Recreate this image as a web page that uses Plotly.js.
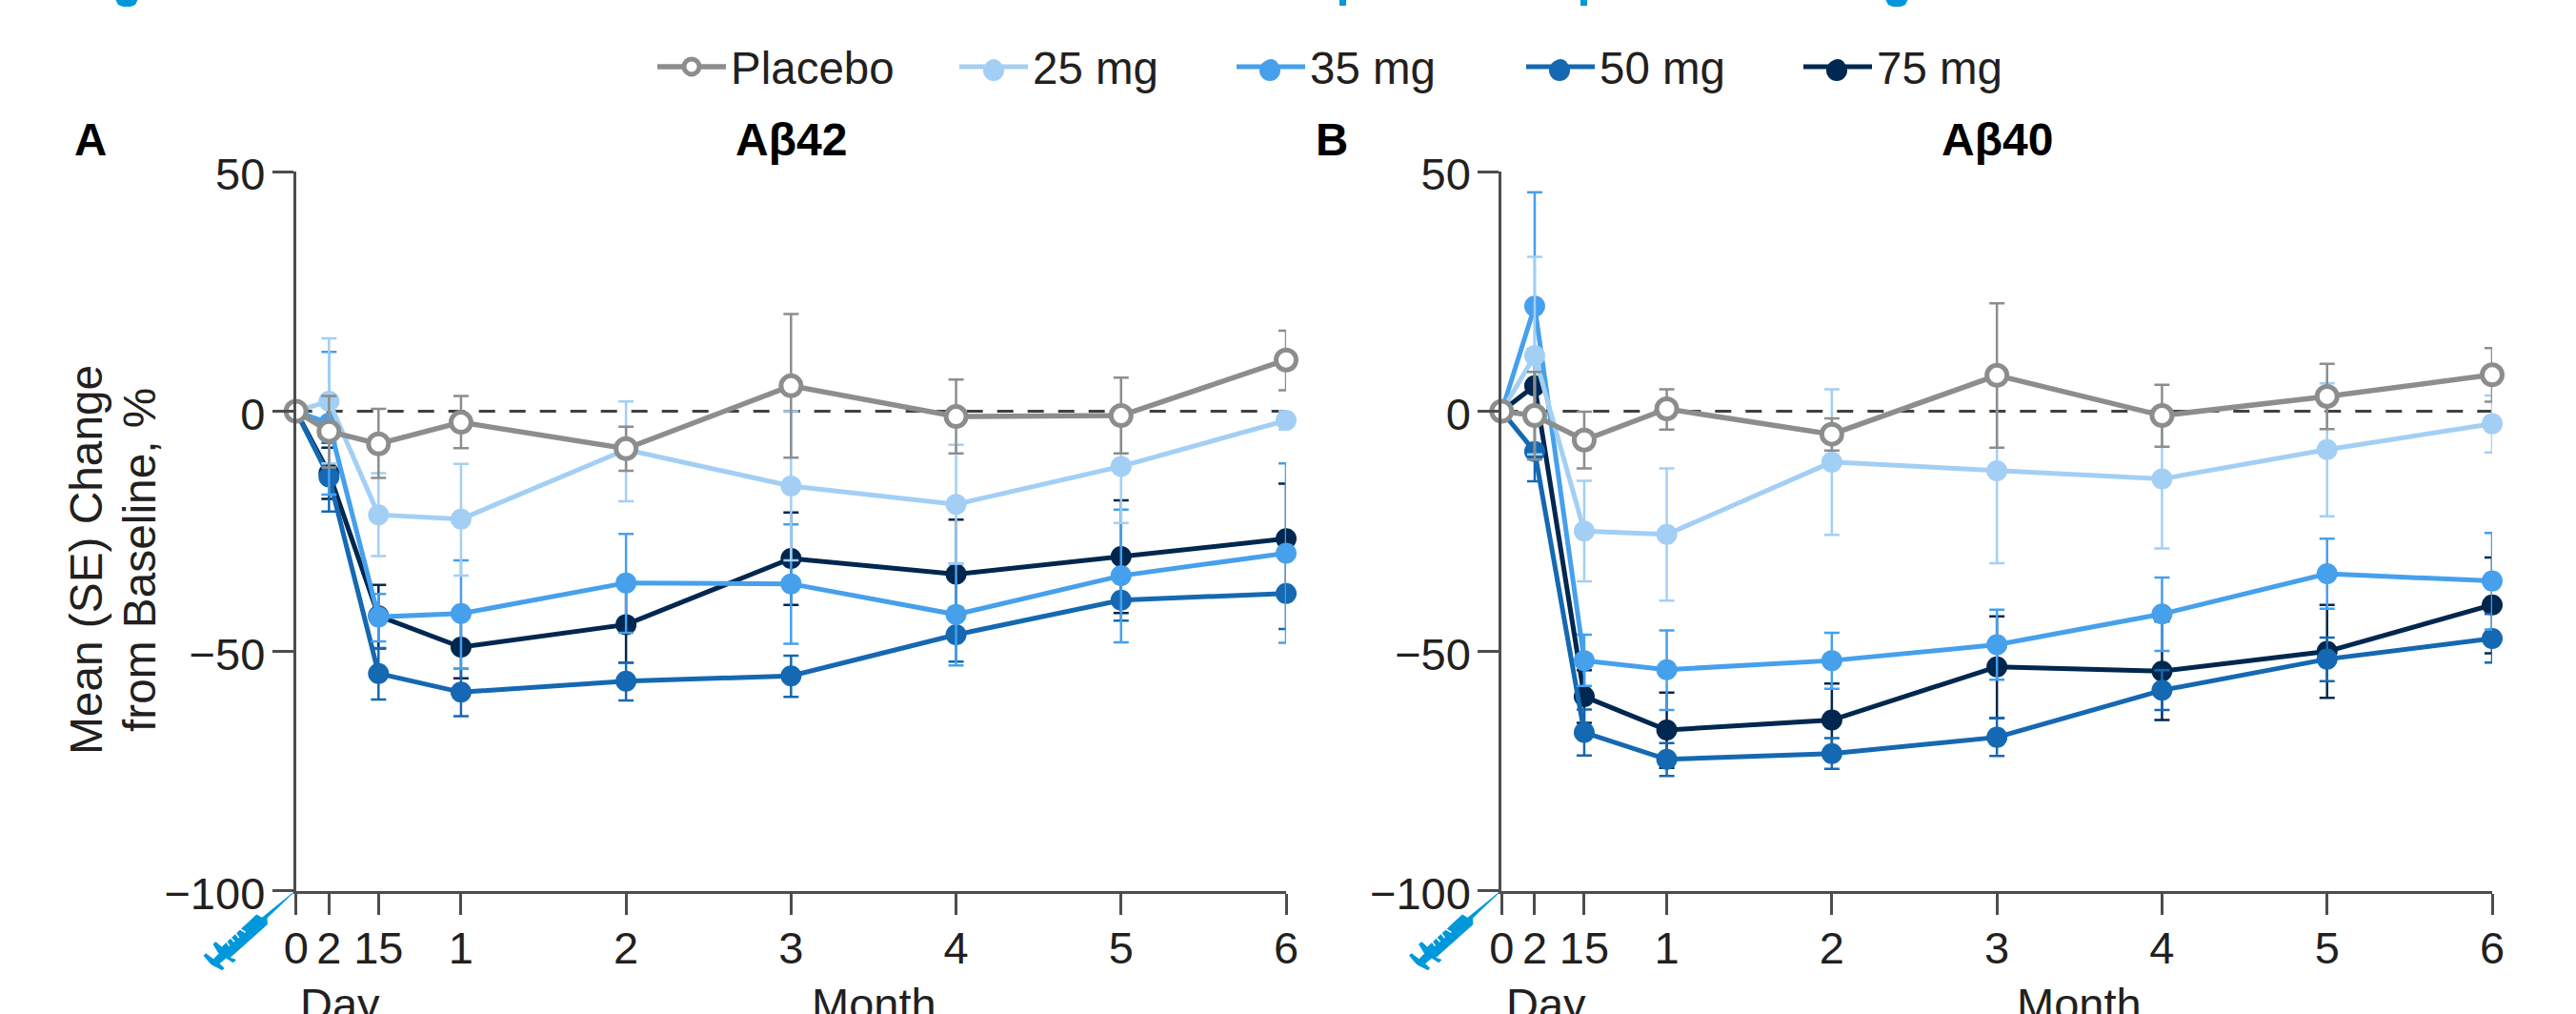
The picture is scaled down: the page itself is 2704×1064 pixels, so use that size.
<!DOCTYPE html>
<html>
<head>
<meta charset="utf-8">
<script src="https://cdn.plot.ly/plotly-3.0.1.min.js"></script>
<style>html,body{margin:0;padding:0;background:#fff}</style>
</head>
<body>
<div id="chart"></div>
<script>
// Shared x positions and tick labels (the axis is drawn in "month units")
const xPos = [0, 0.2, 0.5, 1, 2, 3, 4, 5, 6];
const xTicks = ['0', '2', '15', '1', '2', '3', '4', '5', '6'];
const yTickVals = [50, 0, -50, -100];

const seriesNames = ['Placebo', '25 mg', '35 mg', '50 mg', '75 mg'];
const seriesColors = ['#8c8e8d', '#a3cff5', '#46a0ec', '#1568b2', '#00274f'];

// Panel A: Abeta42 (mean, upper SE, lower SE)
const a42Placebo = [0, -4.2, -6.8, -2.3, -7.8, 5.3, -1.1, -0.9, 10.7];
const a42PlaceboUp = [0, 3.2, 0.5, 3.2, -3.2, 20.3, 6.6, 7, 16.8];
const a42PlaceboLo = [0, -11.7, -13.9, -7.7, -12.4, -9.7, -8.8, -8.8, 4.4];
const a4225 = [0, 2.1, -21.6, -22.5, -8, -15.6, -19.4, -11.5, -1.9];
const a4225Up = [0, 15.2, -12.9, -11, 2.05, 0, -7, 0.3, 0];
const a4225Lo = [0, -10.9, -30.2, -34.3, -18.8, -31.1, -31.8, -23.3, -3.8];
const a4235 = [0, -2.5, -42.9, -42.2, -35.8, -36, -42.4, -34.3, -29.6];
const a4235Up = [0, 12.4, -38.1, -31.1, -25.6, -23.6, -31.8, -20.5, -10.9];
const a4235Lo = [0, -17.4, -48, -53.7, -46.2, -48.5, -53, -48.2, -48.3];
const a4250 = [0, -13.7, -54.7, -58.6, -56.3, -55.2, -46.6, -39.4, -38];
const a4250Up = [0, -6.6, -49.4, -53.7, -52.4, -51, -41, -35.1, -30.6];
const a4250Lo = [0, -20.9, -60.1, -63.6, -60.3, -59.6, -52.2, -43.7, -45.4];
const a4275 = [0, -12.9, -42.7, -49.2, -44.5, -30.7, -34, -30.3, -26.6];
const a4275Up = [0, -7.6, -36.2, -42.7, -36.6, -21.1, -22.6, -18.6, -15.1];
const a4275Lo = [0, -18.3, -49.5, -55.7, -52.4, -40.4, -45.4, -42.1, -38.1];

// Panel B: Abeta40 (mean, upper SE, lower SE)
const a40Placebo = [0, -0.9, -6, 0.5, -4.8, 7.5, -0.9, 3.1, 7.6];
const a40PlaceboUp = [0, 8.2, -0.1, 4.6, -1.5, 22.5, 5.5, 9.9, 13.2];
const a40PlaceboLo = [0, -10.1, -11.9, -3.8, -8.2, -7.6, -7.4, -3.7, 2];
const a4025 = [0, 11.6, -25, -25.7, -10.6, -12.4, -14.1, -8, -2.6];
const a4025Up = [0, 32.2, -14.5, -11.9, 4.6, 7, 0.4, 5.8, 3.3];
const a4025Lo = [0, -9, -35.5, -39.5, -25.8, -31.7, -28.6, -21.9, -8.6];
const a4035 = [0, 21.9, -52, -53.9, -52, -48.7, -42.3, -33.9, -35.4];
const a4035Up = [0, 45.7, -46.6, -45.7, -46.2, -41.4, -34.7, -26.6, -25.4];
const a4035Lo = [0, -1.9, -57.3, -62.3, -57.9, -56, -50, -41.2, -45.5];
const a4050 = [0, -8.4, -67, -72.6, -71.4, -68, -58.2, -51.7, -47.4];
const a4050Up = [0, -2.3, -62.2, -69.2, -68.2, -64, -54, -47.2, -42.3];
const a4050Lo = [0, -14.6, -71.8, -76.1, -74.6, -71.9, -62.3, -56.3, -52.4];
const a4075 = [0, 5.3, -59.5, -66.5, -64.4, -53.3, -54.2, -50.1, -40.4];
const a4075Up = [0, 13, -54, -58.7, -56.8, -42.8, -43.8, -40.4, -30.5];
const a4075Lo = [0, -2.3, -65, -74.4, -71.9, -64, -64.4, -59.8, -50.5];

const panelA = [[a42Placebo, a42PlaceboUp, a42PlaceboLo], [a4225, a4225Up, a4225Lo], [a4235, a4235Up, a4235Lo], [a4250, a4250Up, a4250Lo], [a4275, a4275Up, a4275Lo]];
const panelB = [[a40Placebo, a40PlaceboUp, a40PlaceboLo], [a4025, a4025Up, a4025Lo], [a4035, a4035Up, a4035Lo], [a4050, a4050Up, a4050Lo], [a4075, a4075Up, a4075Lo]];

const W = 2704, H = 1064;
const FONT = '"Liberation Sans", Arial, sans-serif';
const TEXT = '#231f20';
const AX = '#4d4d4d';
const px = x => x / W;
const py = y => 1 - y / H;

// Legend layout (page pixels)
const legendLeft = [685, 1002, 1293, 1597, 1888];
const legendMidY = 70;
const legendKeyX = [724, 1043, 1333, 1637, 1928];
const legendKeyY = 74;

function traces(panel, xa, ya, withLegend) {
  const out = [];
  for (let i = panel.length - 1; i >= 0; i--) {
    const [m, up, lo] = panel[i];
    const open = i === 0;
    const t = {
      type: 'scatter', mode: 'lines+markers', name: seriesNames[i],
      x: xPos, y: m, xaxis: xa, yaxis: ya, cliponaxis: false,
      line: {color: seriesColors[i], width: open ? 5.5 : 5},
      marker: open
        ? {symbol: 'circle', size: 21, color: '#ffffff', line: {color: seriesColors[i], width: 5}}
        : {symbol: 'circle', size: 22, color: seriesColors[i]},
      error_y: {
        type: 'data', symmetric: false,
        array: up.map((v, k) => +(v - m[k]).toFixed(2)),
        arrayminus: lo.map((v, k) => +(m[k] - v).toFixed(2)),
        color: seriesColors[i], thickness: 2.5, width: 8
      },
      showlegend: withLegend,
      hoverinfo: 'x+y+name'
    };
    if (withLegend) t.legend = i === 0 ? 'legend' : 'legend' + (i + 1);
    out.push(t);
  }
  return out;
}

const data = [...traces(panelA, 'x', 'y', true), ...traces(panelB, 'x2', 'y2', false)];

function xaxis(l, r, anchor) {
  return {
    domain: [px(l), px(r)], range: [0, 6], anchor: anchor, tickmode: 'array',
    tickvals: xPos, ticktext: xTicks, tickangle: 0, ticks: 'outside', ticklen: 22, tickwidth: 3,
    tickcolor: AX, showline: true, linecolor: AX, linewidth: 3, showgrid: false, zeroline: false,
    ticklabelstandoff: -5,
    tickfont: {family: FONT, size: 47, color: TEXT}
  };
}
function yaxis(anchor) {
  return {
    domain: [py(934.6), py(180)], range: [-100, 50], anchor: anchor, tickmode: 'array',
    tickvals: yTickVals, ticks: 'outside', ticklen: 22, tickwidth: 3,
    tickcolor: AX, showline: true, linecolor: AX, linewidth: 3, showgrid: false, zeroline: false,
    ticklabelshift: 3, ticklabelstandoff: -2,
    tickfont: {family: FONT, size: 47, color: TEXT}
  };
}

function annot(text, x, y, size, bold, angle) {
  return {
    text: bold ? '<b>' + text + '</b>' : text, xref: 'paper', yref: 'paper', x: px(x), y: py(y),
    xanchor: 'center', yanchor: 'middle', showarrow: false, textangle: angle || 0,
    font: {family: FONT, size: size, color: bold ? '#000000' : TEXT}
  };
}

const PANEL_B_SHIFT = 1265.6;
const annotations = [
  annot('A', 95, 146, 47.5, true),
  annot('B', 1398, 146, 47.5, true),
  annot('Aβ42', 830, 146, 48, true),
  annot('Aβ40', 2096, 146, 48, true),
  annot('Mean (SE) Change', 90, 588, 47.8, false, -90),
  annot('from Baseline, %', 146, 588, 47.8, false, -90),
  annot('Day', 357, 1053, 47),
  annot('Month', 917, 1053, 47),
  annot('Day', 357 + PANEL_B_SHIFT, 1053, 47),
  annot('Month', 917 + PANEL_B_SHIFT, 1053, 47)
];

// Syringe glyph outline, in page pixels relative to panel A
const syringeBody = [[307.7,936.7],[280,963.3],[280.3,970],[241,1005],[247.3,1007.3],[244.7,1009.7],[237.3,1005],[230,1011],[235,1016],[233.3,1017.7],[221.7,1011.7],[214,1002.7],[216,1000.7],[224,1006.7],[230,1000.7],[224,990.7],[226.7,988.7],[232.7,994],[269.3,960],[275,963.3]];
const syringeMarks = [[[237.3,987.3],[240.7,992.7]],[[242.3,984],[246,988.3]],[[247.3,979.3],[250.7,984]],[[252.3,975],[257.7,978.3]]];

function toPath(pts, shift) {
  return 'M' + pts.map(p => px(p[0] + shift) + ',' + py(p[1])).join(' L');
}
const blue = '#0098db';
const shapes = [];
[['x', 'y'], ['x2', 'y2']].forEach(([a, b]) => {
  shapes.push({type: 'line', xref: a, yref: b, x0: 0, x1: 6, y0: 0, y1: 0, layer: 'below',
    line: {color: '#404040', width: 3, dash: '17px,15px'}});
});
[0, PANEL_B_SHIFT].forEach(s => {
  shapes.push({type: 'path', xref: 'paper', yref: 'paper', path: toPath(syringeBody, s) + ' Z', fillcolor: blue, line: {color: blue, width: 1}});
  syringeMarks.forEach(mk => shapes.push({type: 'path', xref: 'paper', yref: 'paper', path: toPath(mk, s), line: {color: '#ffffff', width: 1.5}}));
});
// Legend keys are a little larger than the library's legend marker limit
for (let i = 1; i < 5; i++) {
  shapes.push({type: 'circle', xref: 'paper', yref: 'paper', x0: px(legendKeyX[i] - 11), x1: px(legendKeyX[i] + 11),
    y0: py(legendKeyY + 11), y1: py(legendKeyY - 11), fillcolor: seriesColors[i], line: {width: 0}});
}
// Cropped descenders of the heading cut off by the top edge of the picture
[[121, 145], [1979, 2003]].forEach(([a, b]) => {
  shapes.push({type: 'path', xref: 'paper', yref: 'paper',
    path: 'M' + px(a) + ',' + py(-1) + ' L' + px(b) + ',' + py(-1) + ' L' + px(b - 3) + ',' + py(5) + ' L' + px(b - 8) + ',' + py(7) + ' L' + px(a + 8) + ',' + py(7) + ' L' + px(a + 3) + ',' + py(5) + ' Z',
    fillcolor: blue, line: {width: 0}});
});
[[1406, 1413], [1659, 1666]].forEach(([a, b]) => {
  shapes.push({type: 'rect', xref: 'paper', yref: 'paper', x0: px(a), x1: px(b), y0: py(6), y1: py(-1), fillcolor: blue, line: {width: 0}});
});

const layout = {
  width: W, height: H, autosize: false,
  margin: {l: 0, r: 0, t: 0, b: 0, pad: 0},
  paper_bgcolor: '#ffffff', plot_bgcolor: 'rgba(0,0,0,0)',
  font: {family: FONT, size: 47, color: TEXT},
  showlegend: true,
  xaxis: xaxis(310.7, 1350, 'y'), yaxis: yaxis('x'),
  xaxis2: xaxis(1576.3, 2616, 'y2'), yaxis2: yaxis('x2'),
  annotations, shapes
};
seriesNames.forEach((n, i) => {
  layout[i === 0 ? 'legend' : 'legend' + (i + 1)] = {
    x: px(legendLeft[i]), y: py(legendMidY), xanchor: 'left', yanchor: 'middle', orientation: 'h',
    itemwidth: 72, bgcolor: 'rgba(0,0,0,0)', borderwidth: 0,
    font: {family: FONT, size: 47.5, color: TEXT}
  };
});

Plotly.newPlot('chart', data, layout, {displayModeBar: false, responsive: false});
</script>
</body>
</html>
